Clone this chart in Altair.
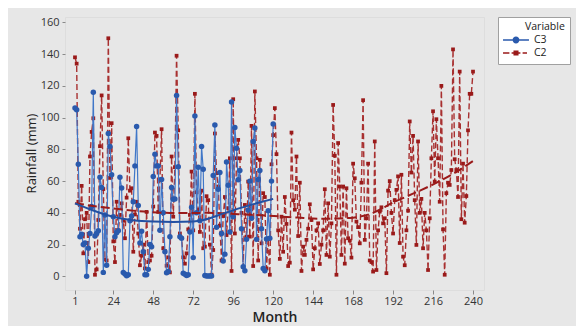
import altair as alt
import pandas as pd

# ---------------- data ----------------
c3_values = [
    106, 105, 70.6, 25, 26.5, 20, 21, 0, 17.7, 27,
    44, 116, 25.4, 27, 28.8, 62.4, 56, 2.5, 38.7, 7,
    90, 81.8, 64, 37.6, 25, 27.5, 28.8, 62.4, 55.7, 2.5,
    1.5, 0.4, 1, 35, 38, 47, 69.6, 94.4, 44.6, 21,
    28.4, 15.5, 1, 1, 4.4, 20, 18.7, 62.9, 77, 69.6,
    69.6, 29, 61, 40, 15.5, 2.3, 3, 25, 56, 48.6,
    48.8, 114, 69, 25, 24, 2, 1.3, 0.6, 1, 28,
    43.5, 11.8, 101, 40, 68.8, 35, 81.8, 67.5, 0.6, 0.2,
    0.2, 0.2, 0.2, 63.5, 95.4, 31, 54.9, 65.4, 27, 9.7,
    14, 72, 57.4, 28, 109.8, 37.6, 93.8, 80.7, 60.8, 66.7,
    30, 6, 3.6, 23.3, 41.8, 60, 36.6, 85, 93.4, 23.3,
    61, 66.7, 30, 5, 3.6, 23.5, 41.4, 24, 60, 96,
]

c2_values_first = [
    138, 134, 47, 30, 57, 14.5, 36, 40, 9, 75.5,
    91, 99.6, 1, 4.4, 35.5, 82, 114, 55, 10.7, 10,
    150, 62, 96.5, 22, 9, 47, 29, 38.7, 46, 35,
    24, 49.6, 87, 54, 55.5, 15.5, 39, 47, 27, 7,
    13, 20, 5, 40.6, 9, 10, 13, 44, 90.6, 88.5,
    40.6, 61, 92.7, 17.7, 16, 6.7, 12, 2.5, 75.5, 37.6,
    68.8, 139, 92, 27, 24, 12, 8, 14.5, 29.6, 38.7,
    66, 29, 115, 53, 42, 28, 54, 17.7, 18.7, 50.5,
    48, 20, 1, 16.6, 90, 65, 56.6, 32, 10, 38,
    50, 26, 43, 74.4, 3.4, 111.6, 27, 74.4, 86, 74.4,
    40, 6, 45, 25, 59.7, 25, 94.8, 6.5, 116.5, 74.4,
    10, 73.4, 20.8, 52.4, 50, 5, 24, 1, 70.6, 89,
]

c2_values_second = [
    106, 77, 29, 11, 37.6, 15.5, 50, 33, 6.5, 8.6,
    90.6, 48, 42, 75.5, 25.4, 59, 3.4, 18.7, 13.5, 23,
    30, 45.4, 35.5, 4.4, 17.7, 29, 33.4, 7.8, 20, 29,
    54.9, 13.5, 46, 12.4, 33.4, 108, 76, 1, 84, 56.6,
    13.5, 56.6, 8, 55.5, 24, 22.5, 11.8, 71, 61.8, 34.5,
    31, 20.8, 59, 111, 23, 36.6, 71, 10, 9, 3,
    85, 4, 29, 40.8, 43.5, 33.4, 36.6, 2, 54, 60,
    40, 27, 48, 54.5, 63, 21, 64, 12.4, 7, 29,
    41.4, 97.6, 65.4, 88.5, 48, 19.8, 85, 40, 48.8, 17.7,
    40, 29, 4, 36.6, 74.4, 104, 59.7, 99, 74.4, 47,
    120, 29.6, 1, 52.4, 59, 57.6, 67, 143, 73.8, 67,
    50, 129, 36, 71, 33.8, 50.6, 92, 115, 115, 129,
]

c3_trend_month = [1, 12, 24, 36, 48, 60, 72, 78, 90, 100, 110, 120]
c3_trend_value = [46, 41.5, 37.5, 35.3, 34.5, 34.3, 34.6, 35.5, 39.5, 43, 46, 48.8]

c2_trend_month = [1, 23, 45, 63, 81, 99, 117, 135, 150, 166, 180, 192, 206, 220, 231, 240]
c2_trend_value = [46, 42.9, 40.6, 39.9, 40.0, 39.2, 38.2, 37.0, 36.3, 36.8, 40.0, 46.5, 53, 60, 66.5, 72.7]

x_ticks = [1, 24, 48, 72, 96, 120, 144, 168, 192, 216, 240]
y_ticks = [0, 20, 40, 60, 80, 100, 120, 140, 160]

series_names = ["C3", "C2"]
series_colors = ["#2a5aad", "#9a1a1a"]

# ---------------- tables ----------------
c2_values = c2_values_first + c2_values_second
c3_df = pd.DataFrame({"Month": list(range(1, len(c3_values) + 1)), "Rainfall": c3_values})
c2_df = pd.DataFrame({"Month": list(range(1, len(c2_values) + 1)), "Rainfall": c2_values})
c3_trend_df = pd.DataFrame({"Month": c3_trend_month, "Rainfall": c3_trend_value})
c2_trend_df = pd.DataFrame({"Month": c2_trend_month, "Rainfall": c2_trend_value})
legend_df = pd.DataFrame({"Month": [-100, -100], "Rainfall": [50, 50], "Variable": series_names})

FONT = "Open Sans"

x_scale = alt.Scale(domain=[-5, 246.6], nice=False, zero=False)
y_scale = alt.Scale(domain=[-8.6, 163.4], nice=False, zero=False)

x_axis = alt.Axis(
    values=x_ticks, title="Month", grid=False, domain=False,
    tickSize=4, tickColor="#8a8a8a", labelFontSize=11, labelColor="#333333",
    labelPadding=1, labelFont=FONT, titleFont=FONT, titleFontSize=14,
    titleFontWeight=600, titleColor="#222222", titleX=209.5, titleY=27,
    titleBaseline="middle", titleAlign="center",
)
y_axis = alt.Axis(
    values=y_ticks, title="Rainfall (mm)", grid=False, domain=False,
    tickSize=3, tickColor="#8a8a8a", labelFontSize=11, labelColor="#333333",
    labelPadding=3, labelFont=FONT, titleFont=FONT, titleFontSize=13,
    titleFontWeight="normal", titleColor="#222222", titleX=-34, titleY=136,
    titleAngle=270, titleBaseline="middle", titleAlign="center",
)


def enc(chart):
    return chart.encode(
        x=alt.X("Month:Q", scale=x_scale, axis=x_axis),
        y=alt.Y("Rainfall:Q", scale=y_scale, axis=y_axis),
    )


c2_line = enc(alt.Chart(c2_df).mark_line(color="#a83030", strokeWidth=1.4, strokeDash=[6, 3], clip=True))
c2_pts = enc(alt.Chart(c2_df).mark_point(shape="square", filled=True, size=14, color=series_colors[1], opacity=1, clip=True))
c3_line = enc(alt.Chart(c3_df).mark_line(color="#4077c8", strokeWidth=1.2, clip=True))
c3_pts = enc(alt.Chart(c3_df).mark_point(shape="circle", filled=True, size=30, color=series_colors[0], opacity=1, clip=True))
c2_trend = enc(alt.Chart(c2_trend_df).mark_line(color="#9a1a1a", strokeWidth=2, strokeDash=[9, 4], interpolate="monotone", clip=True))
c3_trend = enc(alt.Chart(c3_trend_df).mark_line(color="#2350a2", strokeWidth=2, interpolate="monotone", clip=True))

# legend glyphs: line + marker, drawn wider than the nominal symbol box
path_c3 = ("M-2.36,-0.14L2.36,-0.14L2.36,0.14L-2.36,0.14Z "
           "M0.62,0A0.62,0.62 0 1 1 -0.62,0A0.62,0.62 0 1 1 0.62,0Z")
path_c2 = ("M-2.36,-0.14L-1.2,-0.14L-1.2,0.14L-2.36,0.14Z "
           "M-0.8,-0.14L0.8,-0.14L0.8,0.14L-0.8,0.14Z "
           "M-0.46,-0.46L0.46,-0.46L0.46,0.46L-0.46,0.46Z "
           "M1.2,-0.14L2.0,-0.14L2.0,0.14L1.2,0.14Z")

legend_props = dict(
    title="Variable", orient="none", legendX=433, legendY=0,
    padding=5, strokeColor="#a0a0a0", fillColor="white",
    titleFont=FONT, titleFontSize=10.5, titleFontWeight="normal", titleColor="#222222",
    titlePadding=2, titleAnchor="middle", titleAlign="left",
    labelFont=FONT, labelFontSize=10.5, labelColor="#222222",
    symbolSize=121, symbolStrokeWidth=0, symbolOffset=7.5, rowPadding=2, labelOffset=12.5,
)

legend_layer = enc(alt.Chart(legend_df).mark_point(filled=True, opacity=1, clip=True)).encode(
    color=alt.Color("Variable:N", scale=alt.Scale(domain=series_names, range=series_colors),
                    legend=alt.Legend(**legend_props)),
    shape=alt.Shape("Variable:N", scale=alt.Scale(domain=series_names, range=[path_c3, path_c2]),
                    legend=alt.Legend(**legend_props)),
)

chart = alt.layer(c2_line, c2_pts, c3_line, c3_pts, c2_trend, c3_trend, legend_layer).properties(
    width=419, height=273,
    autosize=alt.AutoSizeParams(type="none"),
    padding={"left": 57, "top": 9, "right": 92, "bottom": 36},
    background="#e7e7e7",
).configure_view(
    fill="white", stroke="#a0a0a0", strokeWidth=1,
).configure(font=FONT)

chart.save("out.html", embed_options={"renderer": "svg", "actions": False})
